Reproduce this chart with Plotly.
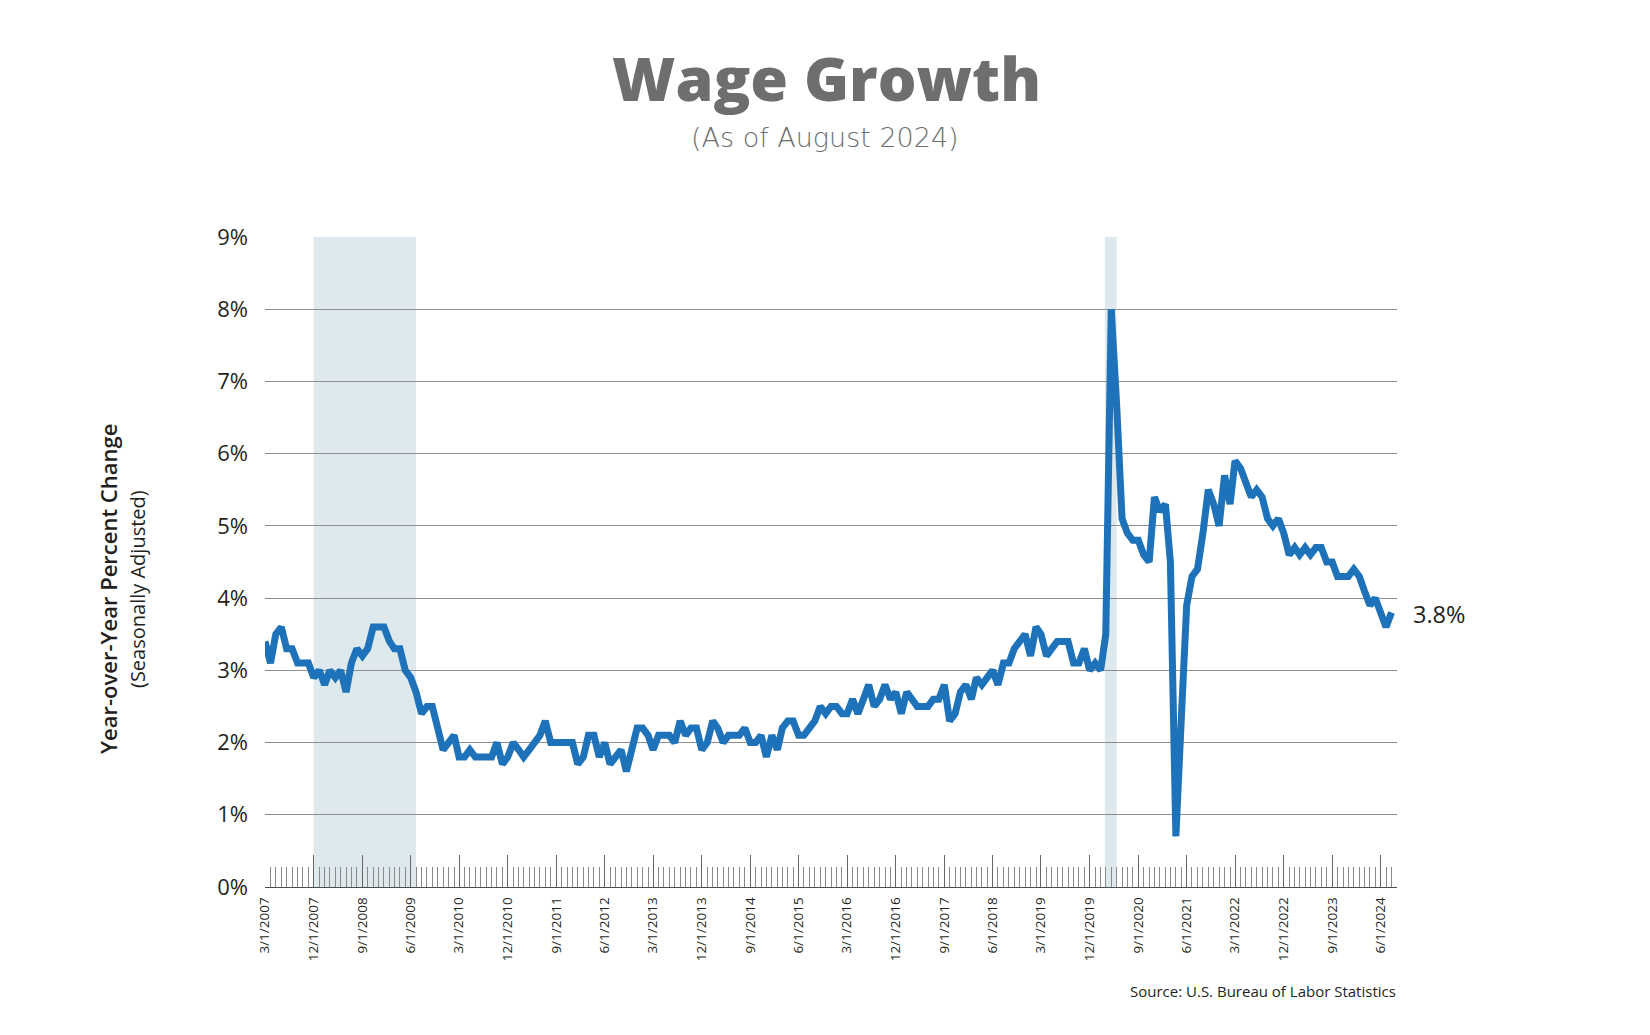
import plotly.graph_objects as go
import pandas as pd

# ---------------- data ----------------
start_month = "2007-03-01"
wage_growth = [
    3.4, 3.1, 3.5, 3.6, 3.3, 3.3, 3.1, 3.1, 3.1, 2.9,   # 2007-03 .. 2007-12
    3.0, 2.8, 3.0, 2.9, 3.0, 2.7, 3.1, 3.3, 3.2, 3.3,   # 2008-01 .. 2008-10
    3.6, 3.6, 3.6, 3.4, 3.3, 3.3, 3.0, 2.9, 2.7, 2.4,   # 2008-11 .. 2009-08
    2.5, 2.5, 2.2, 1.9, 2.0, 2.1, 1.8, 1.8, 1.9, 1.8,   # 2009-09 .. 2010-06
    1.8, 1.8, 1.8, 2.0, 1.7, 1.8, 2.0, 1.9, 1.8, 1.9,   # 2010-07 .. 2011-04
    2.0, 2.1, 2.3, 2.0, 2.0, 2.0, 2.0, 2.0, 1.7, 1.8,   # 2011-05 .. 2012-02
    2.1, 2.1, 1.8, 2.0, 1.7, 1.8, 1.9, 1.6, 1.9, 2.2,   # 2012-03 .. 2012-12
    2.2, 2.1, 1.9, 2.1, 2.1, 2.1, 2.0, 2.3, 2.1, 2.2,   # 2013-01 .. 2013-10
    2.2, 1.9, 2.0, 2.3, 2.2, 2.0, 2.1, 2.1, 2.1, 2.2,   # 2013-11 .. 2014-08
    2.0, 2.0, 2.1, 1.8, 2.1, 1.9, 2.2, 2.3, 2.3, 2.1,   # 2014-09 .. 2015-06
    2.1, 2.2, 2.3, 2.5, 2.4, 2.5, 2.5, 2.4, 2.4, 2.6,   # 2015-07 .. 2016-04
    2.4, 2.6, 2.8, 2.5, 2.6, 2.8, 2.6, 2.7, 2.4, 2.7,   # 2016-05 .. 2017-02
    2.6, 2.5, 2.5, 2.5, 2.6, 2.6, 2.8, 2.3, 2.4, 2.7,   # 2017-03 .. 2017-12
    2.8, 2.6, 2.9, 2.8, 2.9, 3.0, 2.8, 3.1, 3.1, 3.3,   # 2018-01 .. 2018-10
    3.4, 3.5, 3.2, 3.6, 3.5, 3.2, 3.3, 3.4, 3.4, 3.4,   # 2018-11 .. 2019-08
    3.1, 3.1, 3.3, 3.0, 3.1, 3.0, 3.5, 8.0, 6.7, 5.1,   # 2019-09 .. 2020-06
    4.9, 4.8, 4.8, 4.6, 4.5, 5.4, 5.2, 5.3, 4.5, 0.7,   # 2020-07 .. 2021-04
    2.3, 3.9, 4.3, 4.4, 4.9, 5.5, 5.3, 5.0, 5.7, 5.3,   # 2021-05 .. 2022-02
    5.9, 5.8, 5.6, 5.4, 5.5, 5.4, 5.1, 5.0, 5.1, 4.9,   # 2022-03 .. 2022-12
    4.6, 4.7, 4.6, 4.7, 4.6, 4.7, 4.7, 4.5, 4.5, 4.3,   # 2023-01 .. 2023-10
    4.3, 4.3, 4.4, 4.3, 4.1, 3.9, 4.0, 3.8, 3.6, 3.8,   # 2023-11 .. 2024-08
]
dates = pd.date_range(start_month, periods=len(wage_growth), freq="MS")

x_tick_labels = [
    "3/1/2007", "12/1/2007", "9/1/2008", "6/1/2009", "3/1/2010", "12/1/2010",
    "9/1/2011", "6/1/2012", "3/1/2013", "12/1/2013", "9/1/2014", "6/1/2015",
    "3/1/2016", "12/1/2016", "9/1/2017", "6/1/2018", "3/1/2019", "12/1/2019",
    "9/1/2020", "6/1/2021", "3/1/2022", "12/1/2022", "9/1/2023", "6/1/2024",
]
x_tick_dates = pd.to_datetime(x_tick_labels, format="%m/%d/%Y")

y_ticks = [0, 1, 2, 3, 4, 5, 6, 7, 8, 9]
y_tick_labels = ["0%", "1%", "2%", "3%", "4%", "5%", "6%", "7%", "8%", "9%"]

recession_starts = ["2007-12-01", "2020-02-25"]
recession_ends = ["2009-07-01", "2020-05-01"]

x_end = "2024-09-01"
latest_label = "3.8%"

# ---------------- layout helpers ----------------
OFF = 8  # body margin of the html page
PL, PR, PT, PB = 265, 1397, 237, 887  # plot area in page pixels
W, H = 1650 - 2 * OFF, 1035 - 2 * OFF


def px(xp):
    return (xp - PL) / (PR - PL)


def py(yp):
    return (PB - yp) / (PB - PT)


FONT = "Open Sans"
DARK = "#231f20"
GREY = "#6d6e70"

fig = go.Figure()
fig.add_trace(go.Scatter(
    x=dates, y=wage_growth, mode="lines",
    line=dict(color="#1e72ba", width=7),
    hoverinfo="skip", showlegend=False,
))

for s, e in zip(recession_starts, recession_ends):
    fig.add_shape(type="rect", xref="x", yref="y", x0=s, x1=e, y0=0, y1=9,
                  fillcolor="#dde9ec", line=dict(width=0), layer="below")

annotations = [
    dict(text="Wage Growth", x=px(826), y=py(77.5), xanchor="center", yanchor="middle",
         font=dict(family=FONT, size=61, color=GREY, weight=800)),
    dict(text="(As of August 2024)", x=px(825), y=py(137), xanchor="center", yanchor="middle",
         font=dict(family="DejaVu Sans", size=27, color=GREY, weight=200)),
    dict(text="Year-over-Year Percent Change", x=px(108), y=py(589), textangle=-90,
         xanchor="center", yanchor="middle",
         font=dict(family=FONT, size=22, color=DARK, weight=600)),
    dict(text="(Seasonally Adjusted)", x=px(137), y=py(589), textangle=-90,
         xanchor="center", yanchor="middle", font=dict(family=FONT, size=20, color=DARK)),
    dict(text=latest_label, x=px(1411), y=py(614), xanchor="left", yanchor="middle",
         font=dict(family=FONT, size=23.5, color=DARK)),
    dict(text="Source: U.S. Bureau of Labor Statistics", x=px(1398), y=py(991),
         xanchor="right", yanchor="middle", font=dict(family=FONT, size=15, color=DARK)),
]
for a in annotations:
    a.update(xref="paper", yref="paper", showarrow=False)

fig.update_layout(
    width=W, height=H,
    margin=dict(l=PL - OFF, r=W - (PR - OFF), t=PT - OFF, b=H - (PB - OFF), pad=0),
    paper_bgcolor="white", plot_bgcolor="white",
    annotations=annotations,
    showlegend=False,
    xaxis=dict(
        type="date", range=[start_month, x_end],
        tickmode="array", tickvals=x_tick_dates, ticktext=x_tick_labels,
        tickangle=-90, ticks="inside", ticklen=32, tickwidth=1, tickcolor="#666666",
        tickfont=dict(family=FONT, size=13.5, color=DARK), ticklabelstandoff=4,
        showgrid=False, zeroline=False, showline=True, linecolor="#4d4d4d", linewidth=1,
        minor=dict(tickmode="linear", tick0=start_month, dtick="M1", ticks="inside",
                   ticklen=20, tickwidth=1, tickcolor="#8a8a8a", showgrid=False),
        fixedrange=True,
    ),
    yaxis=dict(
        range=[0, 9], tickmode="array", tickvals=y_ticks, ticktext=y_tick_labels,
        ticks="", showgrid=True, gridcolor="#8e8e8e", gridwidth=1,
        zeroline=False, showline=False, ticklabelstandoff=16,
        tickfont=dict(family=FONT, size=22, color=DARK), fixedrange=True,
    ),
)

fig.write_html("out.html")
